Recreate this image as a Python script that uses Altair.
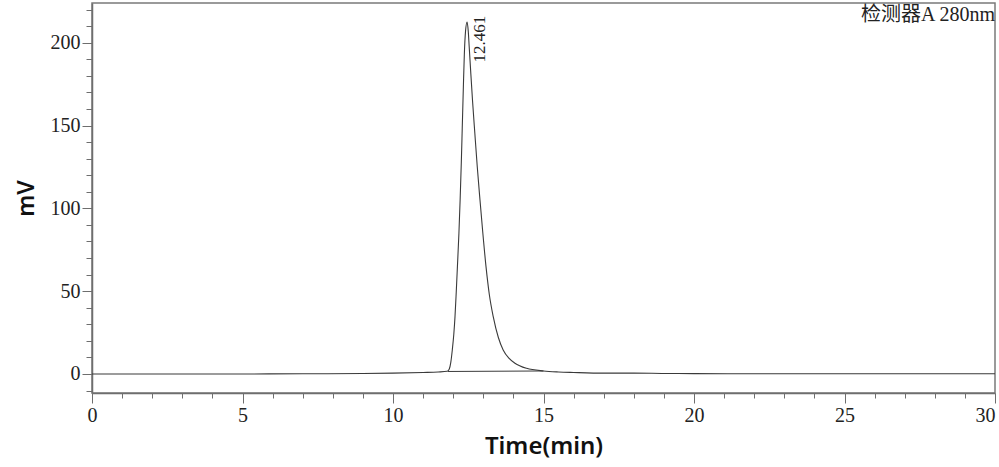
import altair as alt
import pandas as pd

# Chromatogram trace (time in min, signal in mV)
times = [0, 2, 5, 7, 9, 10, 11, 11.5, 11.8, 11.87, 11.92, 11.97, 12.02, 12.06, 12.10,
         12.14, 12.19, 12.23, 12.27, 12.30, 12.34, 12.37, 12.41, 12.461, 12.50, 12.53,
         12.58, 12.64, 12.72, 12.80, 12.89, 12.98, 13.09, 13.20, 13.33, 13.50, 13.66,
         13.85, 14.05, 14.44, 15.0, 15.5, 16, 17, 18, 19, 20, 22, 25, 28, 30]
signal = [0, 0, 0, 0.1, 0.3, 0.5, 0.9, 1.2, 1.6, 3, 7, 14.5, 24, 34.6, 49,
          64.8, 85, 105, 128, 148, 175, 193, 207, 212.5, 207, 198,
          183, 165.6, 145, 125, 105, 86, 64.8, 48, 34.6, 22, 14.5,
          9.5, 6.5, 3.4, 1.8, 1.2, 0.9, 0.5, 0.5, 0.3, 0.2, 0.1, 0.1, 0.1, 0.1]

# Integration baseline under the peak
base_times = [11.82, 15.0]
base_values = [1.5, 1.8]

# Peak annotation
peak_times = [12.461]
peak_labels = ["12.461"]
peak_label_y = [188]

detector_label = "检测器A 280nm"

x_ticks = list(range(0, 31))
y_ticks = list(range(-10, 221, 10))

W, H = 903, 390
axis_color = "#6e6e6e"
line_color = "#3a3a3a"
serif = "Liberation Serif, Noto Sans CJK SC"

df = pd.DataFrame({"t": times, "v": signal})
df_base = pd.DataFrame({"t": base_times, "v": base_values})
df_peak = pd.DataFrame({"t": peak_times, "v": peak_label_y, "label": peak_labels})

xscale = alt.Scale(domain=[0, 30], nice=False, zero=False)
yscale = alt.Scale(domain=[-11.5, 224], nice=False, zero=False)

xaxis = alt.Axis(
    title="Time(min)", values=x_ticks, tickCount=200, format="d",
    labelExpr="datum.value % 5 === 0 ? datum.label : ''",
    tickSize={"condition": {"test": "datum.value % 5 === 0", "value": 10}, "value": 5},
    labelAlign={"condition": {"test": "datum.value === 30", "value": "right"}, "value": "center"},
    grid=False, labelFont=serif, labelFontSize=20, labelColor="#222",
    labelPadding=2, labelFlush=False, labelOverlap=False,
    titleFont="Noto Sans", titleFontSize=24, titleFontWeight=600, titleColor="#111",
    titleX=W / 2, titleY=53, titleBaseline="middle", titleAnchor="middle",
    domainColor=axis_color, tickColor=axis_color, domainWidth=1.5,
)
yaxis = alt.Axis(
    title="mV", values=y_ticks, tickCount=200, format="d",
    labelExpr="datum.value % 50 === 0 ? datum.label : ''",
    tickSize={"condition": {"test": "datum.value % 50 === 0", "value": 10}, "value": 6},
    grid=False, labelFont=serif, labelFontSize=20, labelColor="#222",
    labelPadding=2, labelOverlap=False,
    titleFont="Noto Sans", titleFontSize=23, titleFontWeight=600, titleColor="#111",
    titleX=-66, titleY=195, titleAngle=270, titleBaseline="middle", titleAlign="center",
    domainColor=axis_color, tickColor=axis_color, domainWidth=1.5,
)

trace = alt.Chart(df).mark_line(color=line_color, strokeWidth=1.1, interpolate="monotone").encode(
    x=alt.X("t:Q", scale=xscale, axis=xaxis),
    y=alt.Y("v:Q", scale=yscale, axis=yaxis),
    order="t:Q",
)

baseline = alt.Chart(df_base).mark_line(color=line_color, strokeWidth=1).encode(
    x=alt.X("t:Q", scale=xscale),
    y=alt.Y("v:Q", scale=yscale),
)

peak_text = alt.Chart(df_peak).mark_text(
    angle=270, align="left", baseline="middle", dy=13,
    font=serif, fontSize=17, color="#222",
).encode(
    x=alt.X("t:Q", scale=xscale),
    y=alt.Y("v:Q", scale=yscale),
    text="label:N",
)

det_text = alt.Chart(pd.DataFrame({"label": [detector_label]})).mark_text(
    align="right", baseline="middle", font=serif, fontSize=20, color="#222",
).encode(
    x=alt.value(W), y=alt.value(12), text="label:N",
)

chart = alt.layer(trace, baseline, peak_text, det_text).properties(
    width=W, height=H,
    autosize=alt.AutoSizeParams(type="none"),
    padding={"left": 92, "top": 3, "right": 4, "bottom": 74},
    background="white",
).configure_view(stroke="#7a7a7a", strokeWidth=1.5)

chart.save("out.html", embed_options={"renderer": "svg", "actions": False})
